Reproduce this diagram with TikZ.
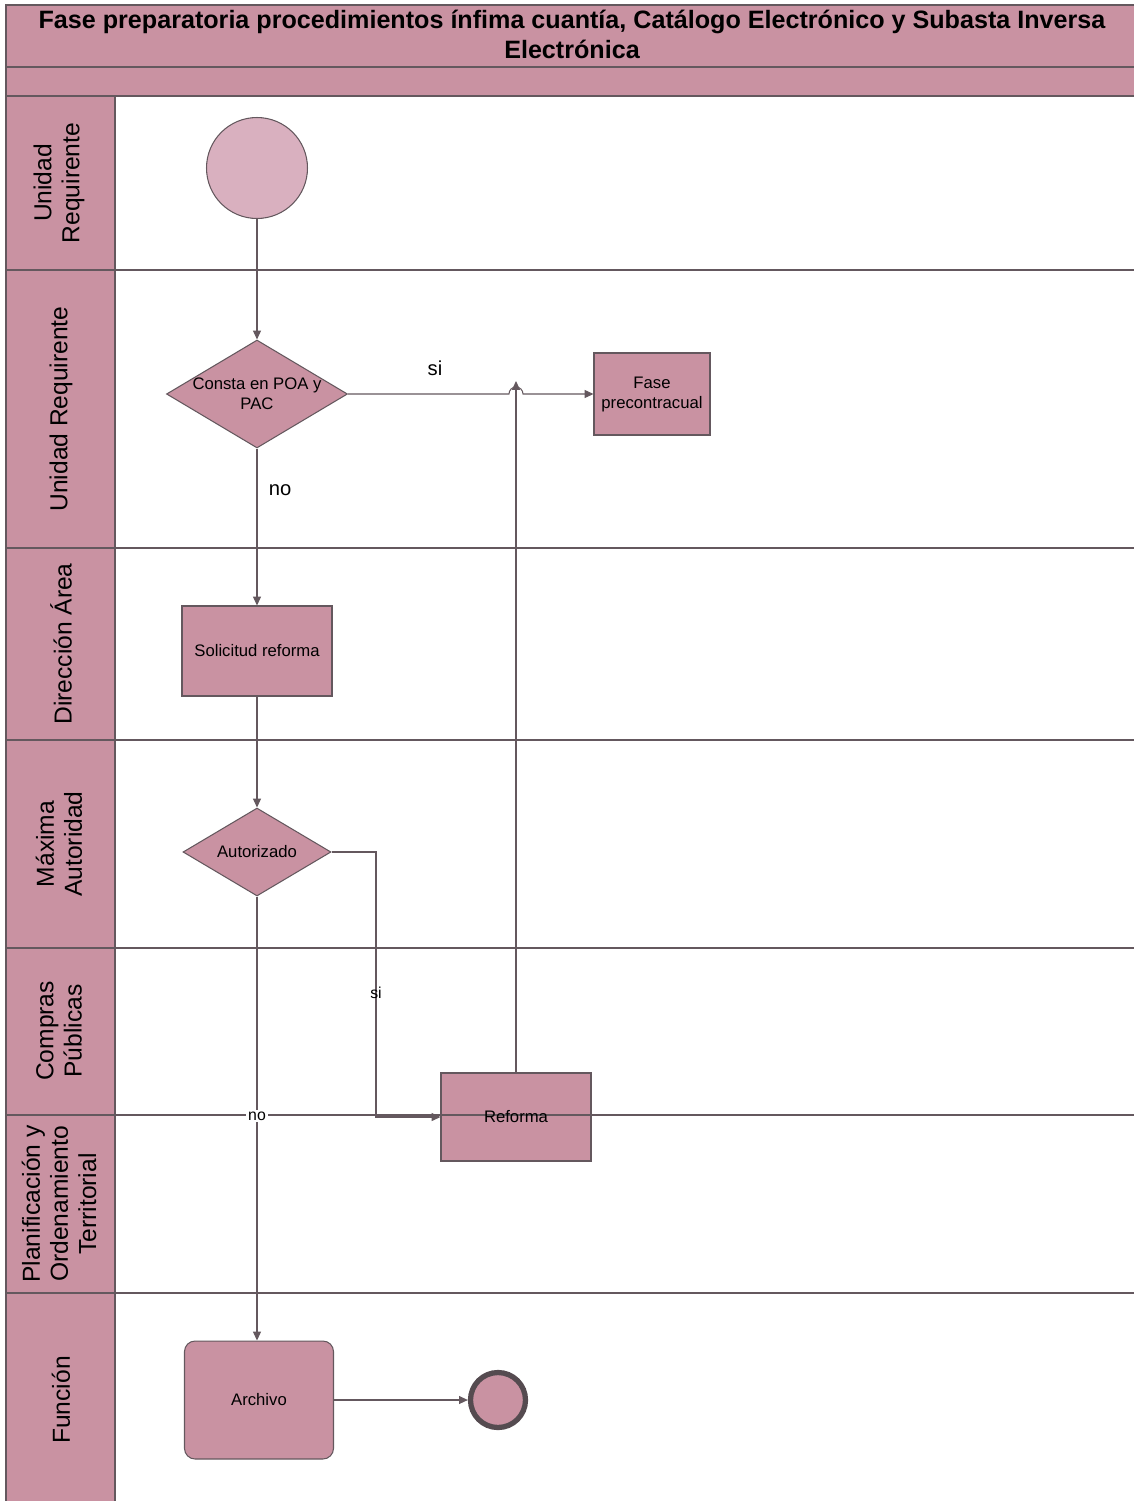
\documentclass[tikz,border=0pt]{standalone}
\usepackage{fontspec}
\setmainfont{Liberation Sans}
\usetikzlibrary{shapes.geometric,arrows.meta}
\definecolor{rosa}{RGB}{201,146,162}
\definecolor{rosaclaro}{RGB}{217,176,191}
\definecolor{trazo}{RGB}{100,88,94}
\begin{document}
\begin{tikzpicture}[x=0.02cm, y=-0.02cm,
    linea/.style={draw=trazo, line width=0.6pt},
    flecha/.style={linea, -{Triangle[length=5pt, width=4.5pt]}},
    caja/.style={draw=trazo, fill=rosa, line width=0.6pt, inner sep=0pt, align=center,
                 font=\fontsize{9.5}{11.4}\selectfont},
    rombo/.style={caja, diamond, shape aspect=1},
    carril/.style={rotate=90, align=center, font=\fontsize{14}{16}\selectfont},
    etiqueta/.style={font=\fontsize{11.5}{13}\selectfont}]
    \useasboundingbox (0,0) rectangle (1134,1501);

    % Cabecera y columna de carriles
    \fill[rosa] (6,5) rectangle (1134,96);
    \fill[rosa] (6,96) rectangle (115,1501);
    \draw[linea] (1134,5) -- (6,5) -- (6,1501);
    \draw[linea] (6,67) -- (1134,67);
    \draw[linea] (6,96) -- (1134,96);
    \draw[linea] (115,96) -- (115,1501);
    \node[align=center, font=\bfseries\fontsize{14.3}{17}\selectfont] (titulo) at (572,34)
        {Fase preparatoria procedimientos ínfima cuantía, Catálogo Electrónico y Subasta Inversa\\Electrónica};

    % Nombres de los carriles
    \node[carril] (c1) at (59,183)  {Unidad\\Requirente};
    \node[carril] (c2) at (61,409)  {Unidad Requirente};
    \node[carril] (c3) at (61,644)  {Dirección Área};
    \node[carril] (c4) at (59,844)  {Máxima\\Autoridad};
    \node[carril] (c5) at (59,1031) {Compras\\Públicas};
    \node[carril] (c6) at (59,1204) {Planificación y\\Ordenamiento\\Territorial};
    \node[carril] (c7) at (61,1400) {Función};

    % Actividades
    \node[caja, circle, fill=rosaclaro, minimum size=2.02cm] (inicio) at (257,168) {};
    \node[rombo, minimum width=3.62cm, minimum height=2.16cm,
          label={[font=\fontsize{9.5}{11.4}\selectfont, align=center]center:Consta en POA y\\PAC}] (poa) at (257,394) {};
    \node[caja, minimum width=2.32cm, minimum height=1.64cm] (fase) at (652,394) {Fase\\precontracual};
    \node[caja, minimum width=3cm, minimum height=1.8cm] (solicitud) at (257,651) {Solicitud reforma};
    \node[rombo, minimum width=2.96cm, minimum height=1.76cm,
          label={[font=\fontsize{9.5}{11.4}\selectfont]center:Autorizado}] (autorizado) at (257,852) {};
    \node[caja, minimum width=3cm, minimum height=1.76cm] (reforma) at (516,1117) {};
    \node[caja, rounded corners=6pt, minimum width=2.98cm, minimum height=2.36cm] (archivo) at (259,1400) {Archivo};
    \node[draw=trazo!85!black, fill=rosa, circle, line width=3pt, minimum size=1.1cm] (fin) at (498,1400) {};

    % Separadores de carriles
    \foreach \y in {270,548,740,948,1115,1293}
        \draw[linea] (6,\y) -- (1134,\y);
    \node[font=\fontsize{9.5}{11.4}\selectfont] (treforma) at (reforma) {Reforma};

    % Conectores
    \coordinate (salto) at (516,381);
    \coordinate (codo) at (376,852);
    \draw[flecha] (inicio) -- (poa);
    \draw[flecha] (poa.east) -- (509,394) arc[start angle=180, end angle=360, radius=7] -- (fase.west);
    \draw[flecha] (reforma.north) -- (salto);
    \draw[flecha] (poa) -- (solicitud);
    \draw[flecha] (solicitud) -- (autorizado);
    \draw[flecha] (autorizado.east) -- (codo) |- (reforma.west);
    \draw[flecha] (autorizado.south) -- (autorizado.south |- archivo.north);
    \draw[flecha] (archivo) -- (fin);

    % Etiquetas
    \node[etiqueta] (si1) at (435,368) {si};
    \node[etiqueta] (no1) at (280,490) {no};
    \node[font=\fontsize{9}{10}\selectfont] (si2) at (376,993) {si};
    \node[font=\fontsize{9}{10}\selectfont, fill=white, inner sep=1pt] (no2) at (257,1116) {no};
\end{tikzpicture}
\end{document}
